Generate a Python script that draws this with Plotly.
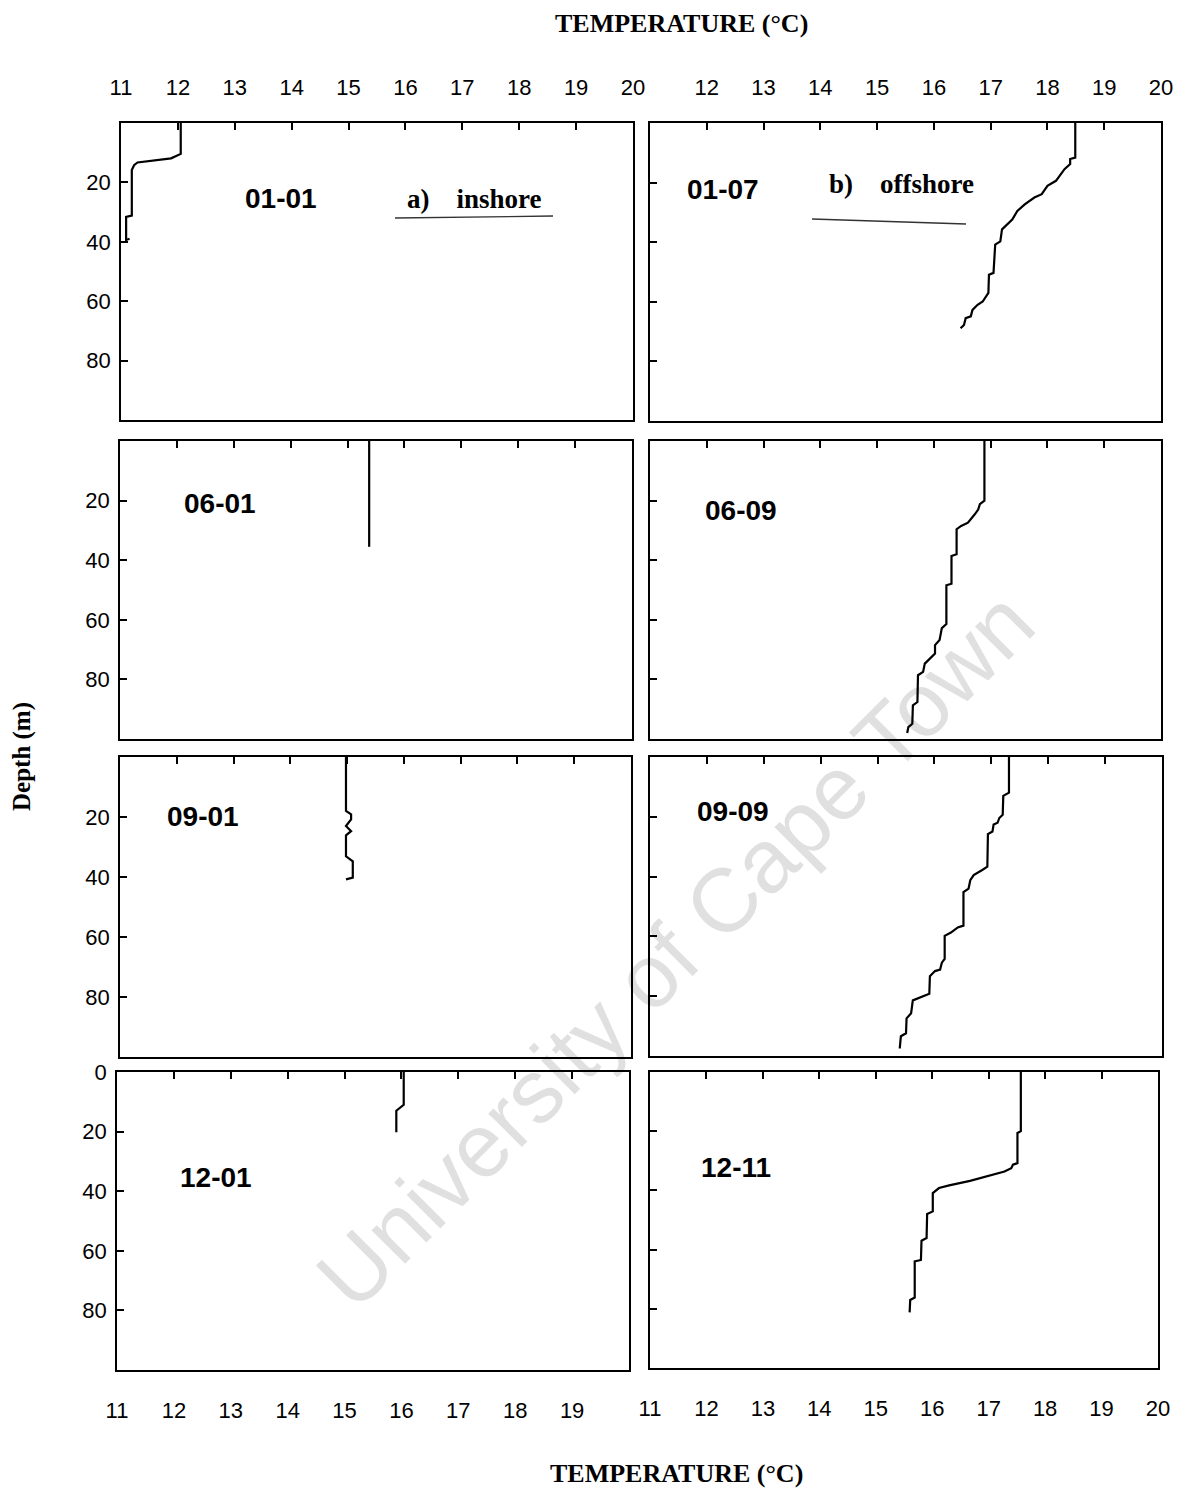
import plotly.graph_objects as go

W, H = 1179, 1489

# ---------------- data (temperature °C, depth m) ----------------
t_0101 = [12.05, 12.05, 11.88, 11.29, 11.23, 11.19, 11.19, 11.09, 11.09, 11.15]
d_0101 = [0, 10.4, 11.9, 13.3, 14.2, 15.8, 31.2, 31.6, 39.4, 39.0]

t_0107 = [18.49, 18.49, 18.40, 18.40, 18.30, 18.24, 18.15, 18.00, 17.90, 17.77, 17.60,
          17.47, 17.38, 17.20, 17.17, 17.08, 17.05, 16.97, 16.96, 16.86, 16.77, 16.68,
          16.65, 16.56, 16.53, 16.47]
d_0107 = [0, 11.6, 12.1, 13.8, 15.5, 17.2, 19.4, 21.1, 23.9, 25.0, 27.3,
          29.5, 32.4, 35.7, 39.7, 40.8, 50.3, 50.9, 57.0, 59.9, 61.0, 62.7,
          64.9, 65.5, 67.8, 68.9]

t_0601 = [15.38, 15.38]
d_0601 = [0, 35.5]

t_0609 = [16.89, 16.89, 16.81, 16.78, 16.72, 16.60, 16.48, 16.40, 16.40, 16.31, 16.31,
          16.22, 16.22, 16.14, 16.10, 16.02, 16.02, 15.93, 15.84, 15.81, 15.72, 15.71,
          15.63, 15.62, 15.55, 15.53]
d_0609 = [0, 20.0, 21.2, 23.0, 24.6, 27.4, 28.5, 29.6, 38.0, 38.6, 47.9,
          48.4, 61.4, 62.8, 66.8, 68.5, 71.3, 73.0, 74.7, 77.5, 78.6, 87.6,
          88.7, 94.9, 96.0, 98.0]

t_0901 = [14.98, 14.98, 15.07, 15.07, 14.98, 15.07, 14.98, 14.98, 15.10, 15.10, 14.98]
d_0901 = [0, 18.0, 19.1, 20.8, 23.0, 24.7, 26.1, 33.1, 34.8, 40.2, 40.8]

t_0909 = [17.31, 17.31, 17.21, 17.20, 17.14, 17.11, 17.04, 17.02, 16.94, 16.93, 16.84,
          16.69, 16.63, 16.60, 16.51, 16.51, 16.41, 16.29, 16.18, 16.18, 16.13, 16.10,
          16.01, 15.92, 15.91, 15.80, 15.62, 15.59, 15.51, 15.50, 15.41, 15.39]
d_0909 = [0, 11.9, 13.0, 19.3, 20.4, 22.0, 22.6, 24.9, 25.8, 36.7, 37.8,
          39.5, 41.2, 44.0, 45.2, 56.4, 57.0, 58.7, 59.8, 67.5, 68.8, 71.1,
          71.6, 73.3, 79.2, 80.0, 81.4, 85.7, 87.4, 92.4, 93.4, 97.5]

t_1201 = [16.04, 16.04, 15.91, 15.91]
d_1201 = [0, 11.0, 13.0, 20.2]

t_1211 = [17.57, 17.57, 17.51, 17.51, 17.43, 17.40, 17.28, 17.03, 16.67, 16.30, 16.12,
          16.01, 16.01, 15.91, 15.90, 15.81, 15.80, 15.69, 15.69, 15.61, 15.60]
d_1211 = [0, 20.0, 20.6, 30.8, 31.3, 32.5, 33.6, 35.0, 36.8, 38.3, 39.2,
          40.9, 47.1, 48.0, 56.1, 57.0, 63.5, 64.0, 76.2, 77.0, 81.2]

station_labels = ["01-01", "01-07", "06-01", "06-09", "09-01", "09-09", "12-01", "12-11"]
profiles_t = [t_0101, t_0107, t_0601, t_0609, t_0901, t_0909, t_1201, t_1211]
profiles_d = [d_0101, d_0107, d_0601, d_0609, d_0901, d_0909, d_1201, d_1211]

temp_ticks = list(range(11, 21))
top_left_ticklabels = list(range(11, 21))
top_right_ticklabels = list(range(12, 21))
bottom_left_ticklabels = list(range(11, 20))
bottom_right_ticklabels = list(range(11, 21))
depth_ticks = [20, 40, 60, 80]
depth_ticks_bottom = [0, 20, 40, 60, 80]

# ---------------- layout geometry (pixels) ----------------
boxes = [
    (121, 633, 123, 420), (650, 1161, 123, 421),
    (120, 632, 441, 739), (650, 1161, 441, 739),
    (120, 631, 757, 1057), (650, 1162, 757, 1056),
    (117, 629, 1072, 1370), (650, 1158, 1072, 1368),
]
label_pos = [(281, 198), (723, 190), (220, 503), (741, 510),
             (203, 816), (733, 811), (216, 1177), (736, 1167)]


def px(x):
    return x / W


def py(y):
    return 1 - y / H


tick_font = dict(family="Liberation Sans, Arial, sans-serif", size=22, color="black")
serif = "Liberation Serif, Times New Roman, serif"

fig = go.Figure()
layout = dict(
    width=W, height=H,
    margin=dict(l=0, r=0, t=0, b=0, pad=0, autoexpand=False),
    paper_bgcolor="white", plot_bgcolor="white", showlegend=False,
)

for i in range(8):
    k = i + 1
    r, c = divmod(i, 2)
    x0, x1, y0, y1 = boxes[i]
    xs = "" if k == 1 else str(k)
    xa = dict(
        domain=[px(x0), px(x1)], range=[11, 20], anchor="y" + xs, side="top",
        ticks="inside", ticklen=7, tickwidth=1.5, tickcolor="black",
        tickvals=temp_ticks, showline=True, linecolor="black", linewidth=1.7,
        mirror=True, showgrid=False, zeroline=False, tickfont=tick_font,
        showticklabels=False, fixedrange=True, automargin=False,
    )
    if r == 0:
        labs = top_left_ticklabels if c == 0 else top_right_ticklabels
        xa.update(showticklabels=True, tickvals=temp_ticks,
                  ticktext=[str(v) if v in labs else "" for v in temp_ticks],
                  ticklabelstandoff=17)
    ya = dict(
        domain=[py(y1), py(y0)], range=[100, 0], anchor="x" + xs,
        ticks="inside", ticklen=7, tickwidth=1.5, tickcolor="black",
        tickvals=depth_ticks_bottom if k == 7 else depth_ticks,
        showline=True, linecolor="black", linewidth=1.7, mirror=True,
        showgrid=False, zeroline=False, tickfont=tick_font,
        showticklabels=(c == 0), ticklabelstandoff=4, fixedrange=True,
        automargin=False,
    )
    layout["xaxis" + xs] = xa
    layout["yaxis" + xs] = ya
    fig.add_trace(go.Scatter(
        x=profiles_t[i], y=profiles_d[i], mode="lines",
        line=dict(color="black", width=2.2), xaxis="x" + xs, yaxis="y" + xs,
        hoverinfo="skip",
    ))

# bottom-row tick labels (labels below, tick marks stay on top)
for n, (k, labs) in enumerate([(7, bottom_left_ticklabels), (8, bottom_right_ticklabels)]):
    ax = str(9 + n)
    x0, x1, y0, y1 = boxes[k - 1]
    layout["xaxis" + ax] = dict(
        domain=[px(x0), px(x1)], range=[11, 20], overlaying="x" + str(k),
        anchor="y" + str(k), side="bottom", ticks="", showline=False,
        showgrid=False, zeroline=False, tickvals=labs,
        ticktext=[str(v) for v in labs], tickfont=tick_font,
        ticklabelstandoff=25, fixedrange=True, automargin=False,
    )
    fig.add_trace(go.Scatter(x=[None], y=[None], xaxis="x" + ax, yaxis="y" + str(k),
                             mode="lines", hoverinfo="skip"))

annotations = []
for i, (lx, ly) in enumerate(label_pos):
    annotations.append(dict(
        x=px(lx), y=py(ly), xref="paper", yref="paper", text="<b>%s</b>" % station_labels[i],
        showarrow=False, xanchor="center", yanchor="middle",
        font=dict(family="Liberation Sans, Arial, sans-serif", size=28, color="black"),
    ))

annotations += [
    dict(x=px(681), y=py(24), xref="paper", yref="paper", text="<b>TEMPERATURE (°C)</b>",
         showarrow=False, xanchor="center", yanchor="middle",
         font=dict(family=serif, size=26, color="black")),
    dict(x=px(676), y=py(1473), xref="paper", yref="paper", text="<b>TEMPERATURE (°C)</b>",
         showarrow=False, xanchor="center", yanchor="middle",
         font=dict(family=serif, size=26, color="black")),
    dict(x=px(22), y=py(757), xref="paper", yref="paper", text="<b>Depth (m)</b>",
         showarrow=False, xanchor="center", yanchor="middle", textangle=-90,
         font=dict(family=serif, size=25, color="black")),
    dict(x=px(474), y=py(199), xref="paper", yref="paper",
         text="<b>a)&nbsp;&nbsp;&nbsp;&nbsp;inshore</b>",
         showarrow=False, xanchor="center", yanchor="middle",
         font=dict(family=serif, size=27, color="black")),
    dict(x=px(901), y=py(184), xref="paper", yref="paper",
         text="<b>b)&nbsp;&nbsp;&nbsp;&nbsp;offshore</b>",
         showarrow=False, xanchor="center", yanchor="middle",
         font=dict(family=serif, size=27, color="black")),
    dict(x=px(675), y=py(950), xref="paper", yref="paper", text="University of Cape Town",
         showarrow=False, xanchor="center", yanchor="middle", textangle=-45,
         font=dict(family="Liberation Sans, Arial, sans-serif", size=90,
                   color="rgba(0,0,0,0.12)")),
]
layout["annotations"] = annotations

layout["shapes"] = [
    dict(type="line", xref="paper", yref="paper", x0=px(395), y0=py(218), x1=px(553), y1=py(216),
         line=dict(color="#333333", width=1.3)),
    dict(type="line", xref="paper", yref="paper", x0=px(812), y0=py(219), x1=px(966), y1=py(224),
         line=dict(color="#333333", width=1.3)),
]

fig.update_layout(**layout)
fig.write_html(
    "out.html",
    config={"displayModeBar": False},
    post_script="document.body.style.margin='0px';document.body.style.padding='0px';"
                "document.body.style.overflow='hidden';",
)
